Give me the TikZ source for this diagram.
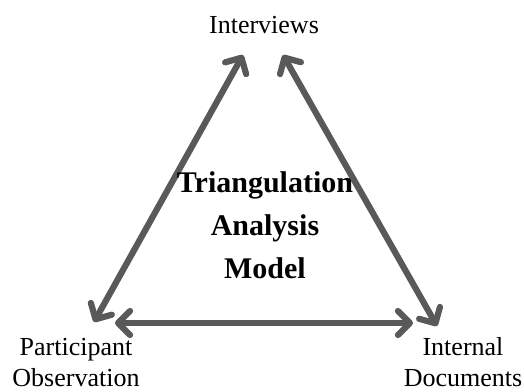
\documentclass[tikz,border=0pt]{standalone}
\usepackage{fontspec}
\setmainfont{Liberation Serif}
\usetikzlibrary{arrows.meta}
\definecolor{arrowgray}{HTML}{595959}
\tikzset{
  conn/.style={draw=arrowgray, line width=6.2pt, line cap=round,
    {Straight Barb[length=12pt,width=24pt,line cap=round,line join=round]}-{Straight Barb[length=12pt,width=24pt,line cap=round,line join=round]}},
  lbl/.style={font=\fontsize{26}{31}\selectfont, align=center, inner sep=0pt, anchor=base},
  title/.style={font=\fontsize{30}{43}\bfseries\selectfont, align=center, inner sep=0pt, anchor=base}
}
\begin{document}
\begin{tikzpicture}[x=1pt,y=-1pt]
\useasboundingbox (0,0) rectangle (524,391);
\coordinate (iL) at (243,55);
\coordinate (iR) at (283,55);
\coordinate (pT) at (94,322);
\coordinate (pR) at (115,323);
\coordinate (dT) at (437,326);
\coordinate (dL) at (413,323);
\draw[conn] (iL) -- (pT);
\draw[conn] (iR) -- (dT);
\draw[conn] (pR) -- (dL);
\node[lbl] (int) at (264,33) {Interviews};
\node[lbl] (par) at (76,386) {Participant\\Observation};
\node[lbl] (doc) at (463,386) {Internal\\Documents};
\node[title] (tam) at (265,278) {Triangulation\\Analysis\\Model};
\end{tikzpicture}
\end{document}
